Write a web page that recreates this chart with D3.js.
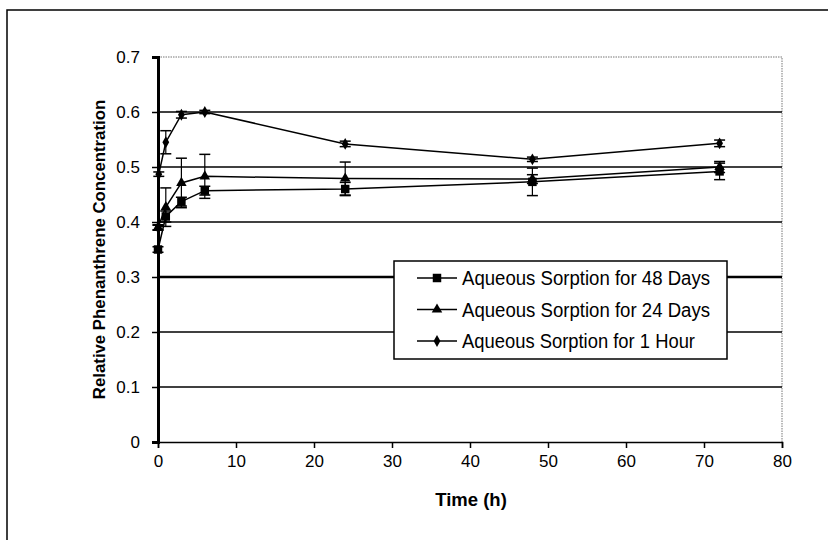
<!DOCTYPE html>
<html>
<head>
<meta charset="utf-8">
<script src="https://cdn.jsdelivr.net/npm/d3@7"></script>
<style>
  html, body { margin: 0; padding: 0; background: #fff; }
  svg { display: block; }
  text { font-family: "Liberation Sans", Arial, sans-serif; fill: #000; }
</style>
</head>
<body>
<svg id="chart" width="828" height="540"></svg>
<script>
// Sampling times (h) and relative concentrations for each pre-sorption period
const times48d = [0, 1, 3, 6, 24, 48, 72];
const values48d = [0.35, 0.41, 0.437, 0.457, 0.46, 0.473, 0.492];
const err48d = [0.005, 0.01, 0.008, 0.008, 0.012, 0.025, 0.015];

const times24d = [0, 1, 3, 6, 24, 48, 72];
const values24d = [0.39, 0.427, 0.471, 0.483, 0.479, 0.478, 0.50];
const err24d = [0.005, 0.035, 0.045, 0.04, 0.03, 0.008, 0.01];

const times1h = [0, 0.1, 1, 3, 6, 24, 48, 72];
const values1h = [0.39, 0.487, 0.545, 0.595, 0.60, 0.542, 0.514, 0.543];
const err1h = [0.004, 0.004, 0.021, 0.006, 0.003, 0.005, 0.004, 0.006];

const seriesNames = ["Aqueous Sorption for 48 Days", "Aqueous Sorption for 24 Days", "Aqueous Sorption for 1 Hour"];
const xTicks = [0, 10, 20, 30, 40, 50, 60, 70, 80];
const yTicks = [0, 0.1, 0.2, 0.3, 0.4, 0.5, 0.6, 0.7];

const series = [
  { name: seriesNames[0], t: times48d, v: values48d, e: err48d, marker: "square" },
  { name: seriesNames[1], t: times24d, v: values24d, e: err24d, marker: "triangle" },
  { name: seriesNames[2], t: times1h, v: values1h, e: err1h, marker: "diamond" }
];

const svg = d3.select("#chart");

// outer chart frame
svg.append("rect")
  .attr("x", 7).attr("y", 10).attr("width", 900).attr("height", 600)
  .attr("fill", "none").attr("stroke", "#000").attr("stroke-width", 1.5);

const x = d3.scaleLinear().domain([0, 80]).range([158, 782]);
const y = d3.scaleLinear().domain([0, 0.7]).range([442, 57]);

// plot area border (top and right, dotted grey)
svg.append("path")
  .attr("d", `M${x(0)},${y(0.7)}H${x(80)}V${y(0)}`)
  .attr("fill", "none").attr("stroke", "#777").attr("stroke-width", 1)
  .attr("stroke-dasharray", "1.5,1");

// horizontal gridlines
svg.append("g").selectAll("line")
  .data(yTicks.filter(d => d > 0 && d < 0.7))
  .join("line")
  .attr("x1", x(0)).attr("x2", x(80))
  .attr("y1", d => y(d)).attr("y2", d => y(d))
  .attr("stroke", "#000")
  .attr("stroke-width", d => Math.abs(d - 0.3) < 1e-9 ? 2.5 : 1.5);

// axes
const xAxis = svg.append("g")
  .attr("transform", `translate(0,${y(0)})`)
  .call(d3.axisBottom(x).tickValues(xTicks).tickFormat(d3.format("d")).tickSize(6).tickPadding(7));
const yAxis = svg.append("g")
  .attr("transform", `translate(${x(0)},0)`)
  .call(d3.axisLeft(y).tickValues(yTicks).tickFormat(d => d === 0 ? "0" : d3.format(".1f")(d)).tickSize(6).tickPadding(12));

[xAxis, yAxis].forEach(g => {
  g.select(".domain").attr("stroke", "#000");
  g.selectAll(".tick line").attr("stroke", "#000").attr("stroke-width", 1.5);
  g.selectAll(".tick text")
    .attr("font-size", 17)
    .attr("font-family", "\"Liberation Sans\", Arial, sans-serif")
    .attr("fill", "#000");
});
xAxis.select(".domain").attr("stroke-width", 1.5);
yAxis.select(".domain").attr("stroke-width", 3);

// axis titles
svg.append("text")
  .attr("x", 471).attr("y", 506)
  .attr("text-anchor", "middle")
  .attr("font-size", 18.5).attr("font-weight", "bold")
  .text("Time (h)");
svg.append("text")
  .attr("transform", `translate(105,${y(0.35)}) rotate(-90)`)
  .attr("text-anchor", "middle")
  .attr("font-size", 16.8).attr("font-weight", "bold")
  .text("Relative Phenanthrene Concentration");

// marker shapes
const symbolFor = {
  square: d3.symbol().type(d3.symbolSquare).size(72),
  triangle: d3.symbol().type(d3.symbolTriangle).size(48),
  diamond: d3.symbol().type(d3.symbolDiamond).size(40)
};

const line = d3.line().x(d => x(d[0])).y(d => y(d[1]));

series.forEach(s => {
  const pts = s.t.map((t, i) => [t, s.v[i], s.e[i]]);
  const g = svg.append("g");
  // error bars
  const eb = g.selectAll("g.err").data(pts).join("g");
  eb.append("line")
    .attr("x1", d => x(d[0])).attr("x2", d => x(d[0]))
    .attr("y1", d => y(d[1] - d[2])).attr("y2", d => y(d[1] + d[2]))
    .attr("stroke", "#000").attr("stroke-width", 1.2);
  [-1, 1].forEach(sign => {
    eb.append("line")
      .attr("x1", d => x(d[0]) - 5.5).attr("x2", d => x(d[0]) + 5.5)
      .attr("y1", d => y(d[1] + sign * d[2])).attr("y2", d => y(d[1] + sign * d[2]))
      .attr("stroke", "#000").attr("stroke-width", 1.5);
  });
  // series line
  g.append("path").datum(pts)
    .attr("d", line)
    .attr("fill", "none").attr("stroke", "#000").attr("stroke-width", 1.5);
  // markers
  g.selectAll("path.m").data(pts).join("path")
    .attr("class", "m")
    .attr("transform", d => `translate(${x(d[0])},${y(d[1])})`)
    .attr("d", symbolFor[s.marker]())
    .attr("fill", "#000");
});

// legend (condensed label text)
const legendWidths = [248, 248, 233];
const legend = svg.append("g").attr("transform", "translate(394,261)");
legend.append("rect")
  .attr("width", 333).attr("height", 98)
  .attr("fill", "#fff").attr("stroke", "#000").attr("stroke-width", 1.5);
series.forEach((s, i) => {
  const ly = 17 + i * 31.5;
  legend.append("line")
    .attr("x1", 23).attr("x2", 63).attr("y1", ly).attr("y2", ly)
    .attr("stroke", "#000").attr("stroke-width", 1.5);
  legend.append("path")
    .attr("transform", `translate(43,${ly})`)
    .attr("d", symbolFor[s.marker]())
    .attr("fill", "#000");
  legend.append("text")
    .attr("x", 68).attr("y", ly + 7)
    .attr("font-size", 20)
    .attr("textLength", legendWidths[i])
    .attr("lengthAdjust", "spacingAndGlyphs")
    .text(s.name);
});
</script>
</body>
</html>
